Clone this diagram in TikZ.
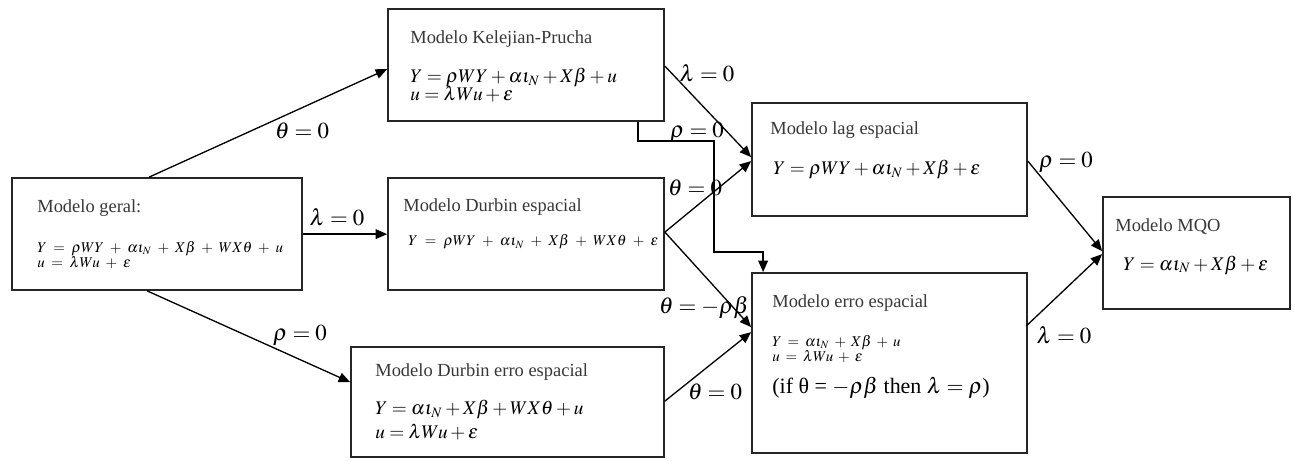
\documentclass[tikz,border=0pt]{standalone}
\usepackage{mathptmx}
\usepackage{fontspec}
\setmainfont{Liberation Serif}
\usetikzlibrary{arrows.meta,calc}
\begin{document}
\begin{tikzpicture}[x=0.02cm,y=-0.02cm,
  box/.style={draw=black!85,line width=1pt,rectangle,inner sep=0pt,fill=white},
  ttl/.style={anchor=west,inner sep=0pt,font=\fontsize{10.5}{12}\selectfont,text=black!78},
  eqn/.style={anchor=west,inner sep=0pt,font=\fontsize{11}{13}\selectfont,align=left},
  eqs/.style={anchor=west,inner sep=0pt,font=\fontsize{8.5}{10}\selectfont,align=left},
  lbl/.style={inner sep=0pt,font=\fontsize{13}{15}\selectfont},
  arr/.style={line width=0.75pt,-{Triangle[length=6.5pt,width=5.5pt]}},
  ln/.style={line width=0.75pt}]
\useasboundingbox (0,0) rectangle (1294,460);
% boxes: center (x,y), width, height in px
\node[box,minimum width={290*0.02cm},minimum height={112*0.02cm}] (geral) at (157,234) {};
\node[box,minimum width={276*0.02cm},minimum height={112*0.02cm}] (kel) at (526,65) {};
\node[box,minimum width={276*0.02cm},minimum height={112*0.02cm}] (durbin) at (526,234) {};
\node[box,minimum width={313*0.02cm},minimum height={110*0.02cm}] (derro) at (507.5,402) {};
\node[box,minimum width={275*0.02cm},minimum height={113*0.02cm}] (lag) at (889.5,159.5) {};
\node[box,minimum width={275*0.02cm},minimum height={180*0.02cm}] (erro) at (889.5,363) {};
\node[box,minimum width={187*0.02cm},minimum height={112*0.02cm}] (mqo) at (1196.5,253) {};
% texts
\node[ttl] (tgeral) at (37,208) {Modelo geral:};
\node[eqs] (egeral) at (37,255) {$\medmuskip=7mu\thickmuskip=8mu Y = \rho WY + \alpha\iota_{N} + X\beta + WX\theta + u$\\[-1pt]$\medmuskip=7mu\thickmuskip=8mu u = \lambda Wu + \varepsilon$};
\node[ttl] (tkel) at (410,39) {Modelo Kelejian-Prucha};
\node[eqn] (ekel) at (410,85) {$Y = \rho WY + \alpha\iota_{N} + X\beta + u$\\[-3pt]$u = \lambda Wu + \varepsilon$};
\node[ttl] (tdurbin) at (403,207) {Modelo Durbin espacial};
\node[eqs] (edurbin) at (408,242) {$\medmuskip=7.5mu\thickmuskip=8.5mu Y = \rho WY + \alpha\iota_{N} + X\beta + WX\theta + \varepsilon$};
\node[ttl] (tderro) at (375,372) {Modelo Durbin erro espacial};
\node[eqn] (ederro) at (375,420) {$Y = \alpha\iota_{N} + X\beta + WX\theta + u$\\[1pt]$u = \lambda Wu + \varepsilon$};
\node[ttl] (tlag) at (770,130) {Modelo lag espacial};
\node[eqn] (elag) at (773,170) {$Y = \rho WY + \alpha\iota_{N} + X\beta + \varepsilon$};
\node[ttl] (terro) at (772,303) {Modelo erro espacial};
\node[eqs] (eerro) at (772,349) {$\medmuskip=6mu\thickmuskip=7mu Y = \alpha\iota_{N} + X\beta + u$\\[-1pt]$\medmuskip=6mu\thickmuskip=7mu u = \lambda Wu + \varepsilon$};
\node[anchor=west,inner sep=0pt,font=\fontsize{12.5}{14}\selectfont] (cond) at (772,388) {(if θ = $-\rho\beta$ then $\lambda = \rho$)};
\node[ttl] (tmqo) at (1115,227) {Modelo MQO};
\node[eqn] (emqo) at (1123,265) {$Y = \alpha\iota_{N} + X\beta + \varepsilon$};
% connectors
\draw[arr] ($(geral.north west)+(138,0)$) -- ($(kel.north west)+(0,61)$);
\draw[arr] ($(geral.north east)+(0,57)$) -- ($(durbin.north west)+(0,57)$);
\draw[arr] ($(geral.south west)+(136,0)$) -- ($(derro.north west)+(0,36)$);
\draw[arr] ($(kel.north east)+(0,58)$) -- ($(lag.north west)+(0,55)$);
\coordinate (k1) at ($(kel.south west)+(251,19)$);
\coordinate (k2) at ($(kel.south west)+(327,19)$);
\coordinate (k3) at ($(erro.north west)+(-37,-20)$);
\coordinate (k4) at ($(erro.north west)+(12,-20)$);
\draw[arr] ($(kel.south west)+(251,0)$) -- (k1) -- (k2) -- (k3) -- (k4) -- ($(erro.north west)+(12,0)$);
\coordinate (dout) at ($(durbin.north east)+(0,55)$);
\draw[arr] (dout) -- ($(lag.north west)+(0,59)$);
\draw[arr] (dout) -- ($(erro.north west)+(0,55)$);
\draw[arr] ($(derro.north east)+(0,55)$) -- ($(erro.north west)+(0,60)$);
\draw[arr] ($(lag.north east)+(0,59)$) -- ($(mqo.north west)+(0,55)$);
\draw[arr] ($(erro.north west)+(275,54)$) -- ($(mqo.north west)+(0,58)$);
% labels
\node[lbl] (l1) at (302,131) {$\theta = 0$};
\node[lbl] (l2) at (337,217) {$\lambda = 0$};
\node[lbl] (l3) at (300,335) {$\rho = 0$};
\node[lbl] (l4) at (707,73) {$\lambda = 0$};
\node[lbl] (l5) at (697,132) {$\rho = 0$};
\node[lbl] (l6) at (695,188) {$\theta = 0$};
\node[lbl] (l7) at (704,308) {$\theta = -\rho\beta$};
\node[lbl] (l8) at (715,392) {$\theta = 0$};
\node[lbl] (l9) at (1066,162) {$\rho = 0$};
\node[lbl] (l10) at (1064,335) {$\lambda = 0$};
\end{tikzpicture}
\end{document}
